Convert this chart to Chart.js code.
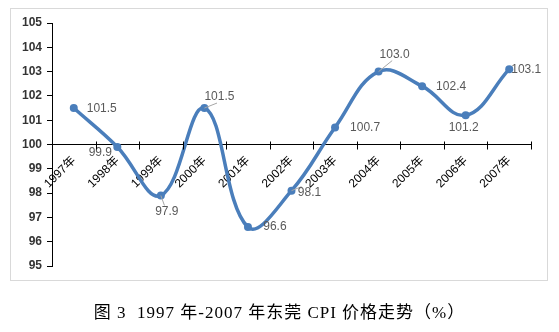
<!DOCTYPE html>
<html>
<head>
<meta charset="utf-8">
<script src="https://cdn.jsdelivr.net/npm/chart.js@4/dist/chart.umd.min.js"></script>
<style>
  html, body { margin: 0; padding: 0; background: #fff; }
  #wrap { position: relative; width: 559px; height: 332px; }
  #frame { position: absolute; left: 10px; top: 8px; width: 536px; height: 271px; border: 1px solid #d9d9d9; }
  #cpi { position: absolute; left: 0; top: 0; }
  #caption { position: absolute; left: 0; top: 298px; width: 559px; text-align: center;
    font: 17px "Liberation Serif", "Noto Sans CJK SC", serif; color: #000; white-space: pre;
    letter-spacing: 1px; }
</style>
</head>
<body>
<div id="wrap">
  <div id="frame"></div>
  <canvas id="cpi" width="559" height="332"></canvas>
  <div id="caption">图 3  1997 年-2007 年东莞 CPI 价格走势（%）</div>
</div>
<script>
// data -------------------------------------------------------------
const years = ['1997年', '1998年', '1999年', '2000年', '2001年', '2002年', '2003年', '2004年', '2005年', '2006年', '2007年'];
const cpi = [101.5, 99.9, 97.9, 101.5, 96.6, 98.1, 100.7, 103.0, 102.4, 101.2, 103.1];
const yTicks = [95, 96, 97, 98, 99, 100, 101, 102, 103, 104, 105];

// where each value label sits relative to its point (dx, dy, leader line?)
const labelOffsets = [[28, 1, 0], [-17, 6, 0], [6, 16, 1], [15, -11, 1], [27, 0, 0], [18, 2, 1],
                      [30, 0, 0], [16, -17, 1], [29, 1, 0], [-2, 12, 0], [17, 1, 0]];

const lineBlue = '#4a7ebb';

// value labels next to the points
const valueLabels = {
  id: 'valueLabels',
  afterDatasetsDraw(chart) {
    const { ctx } = chart;
    const meta = chart.getDatasetMeta(0);
    ctx.save();
    ctx.font = '12px "Liberation Sans", Arial, sans-serif';
    ctx.fillStyle = '#595959';
    ctx.textAlign = 'center';
    ctx.textBaseline = 'middle';
    meta.data.forEach((pt, i) => {
      const [dx, dy, leader] = labelOffsets[i];
      const tx = pt.x + dx, ty = pt.y + dy;
      if (leader) {
        ctx.strokeStyle = '#a6a6a6';
        ctx.lineWidth = 1;
        ctx.beginPath();
        ctx.moveTo(pt.x, pt.y);
        ctx.lineTo(tx - Math.sign(dx) * 8 * (Math.abs(dy) < 4 ? 1 : 0.3), ty - Math.sign(dy) * 6);
        ctx.stroke();
      }
      ctx.fillText(cpi[i].toFixed(1), tx, ty);
    });
    ctx.restore();
  }
};

// tick marks crossing the x axis line at category boundaries
const crossTicks = {
  id: 'crossTicks',
  afterDraw(chart) {
    const { ctx, scales: { x, y } } = chart;
    const y0 = Math.round(y.getPixelForValue(100)) + 0.5;
    ctx.save();
    ctx.strokeStyle = '#000';
    ctx.lineWidth = 1;
    ctx.beginPath();
    for (let i = 0; i <= years.length; i++) {
      const px = Math.round(x.getPixelForValue(i - 0.5)) + 0.5;
      ctx.moveTo(px, y0 - 4);
      ctx.lineTo(px, y0 + 4);
    }
    ctx.stroke();
    ctx.restore();
  }
};

new Chart(document.getElementById('cpi'), {
  type: 'line',
  data: {
    labels: years,
    datasets: [{
      data: cpi,
      borderColor: lineBlue,
      backgroundColor: lineBlue,
      borderWidth: 3.5,
      pointRadius: 4,
      pointBorderWidth: 0,
      tension: 0.4,
      fill: false
    }]
  },
  options: {
    responsive: false,
    animation: false,
    events: [],
    layout: { padding: { top: 23, bottom: 66, right: 28, left: 0 } },
    plugins: { legend: { display: false }, tooltip: { enabled: false } },
    scales: {
      x: {
        type: 'category',
        offset: true,
        position: { y: 100 },
        grid: { offset: true, drawOnChartArea: false, tickLength: 4, tickColor: 'rgba(0,0,0,0)' },
        border: { color: '#000', width: 1 },
        ticks: {
          minRotation: 45, maxRotation: 45, autoSkip: false, padding: 5,
          color: '#000',
          font: { family: '"Liberation Sans", "Noto Sans CJK SC", sans-serif', size: 12 }
        }
      },
      y: {
        min: 95, max: 105,
        afterFit(scale) { scale.width = 52; },
        afterBuildTicks(scale) { scale.ticks = yTicks.map(v => ({ value: v })); },
        grid: { drawOnChartArea: false, tickLength: 5, tickColor: '#000' },
        border: { color: '#000', width: 1 },
        ticks: {
          padding: 5, color: '#333',
          font: { family: '"Liberation Sans", Arial, sans-serif', size: 12, weight: 'bold' }
        }
      }
    }
  },
  plugins: [valueLabels, crossTicks]
});
</script>
</body>
</html>
